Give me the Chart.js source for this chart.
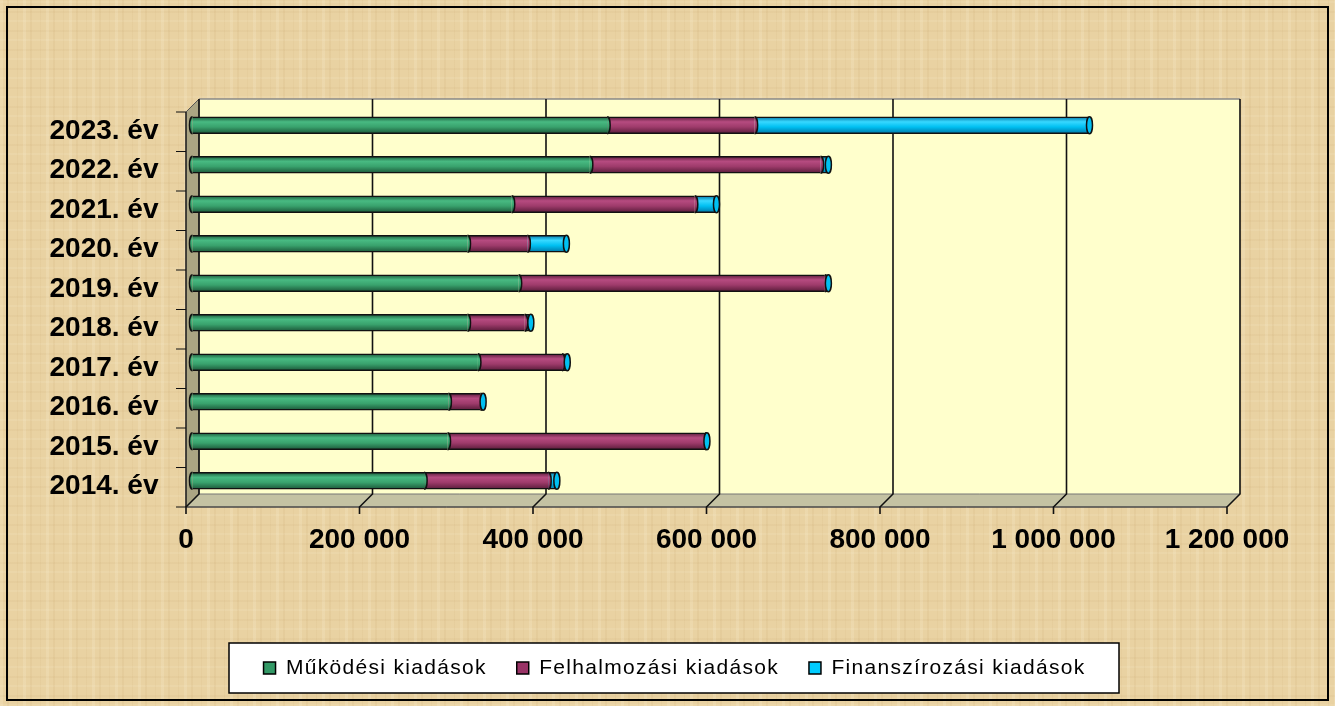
<!DOCTYPE html>
<html>
<head>
<meta charset="utf-8">
<script src="https://cdn.jsdelivr.net/npm/chart.js@4.4.1/dist/chart.umd.min.js"></script>
<style>
  html, body { margin: 0; padding: 0; }
  #wrap {
    position: relative;
    width: 1335px;
    height: 706px;
    background-color: #e9d2a2;
    background-image:
      repeating-linear-gradient(90deg, rgba(255,248,225,0.16) 0 3px, rgba(0,0,0,0) 3px 7px, rgba(170,125,60,0.07) 7px 9px, rgba(0,0,0,0) 9px 17px, rgba(170,125,60,0.05) 17px 18px, rgba(0,0,0,0) 18px 23px),
      repeating-linear-gradient(0deg, rgba(255,248,225,0.10) 0 2px, rgba(0,0,0,0) 2px 9px, rgba(160,115,55,0.05) 9px 11px, rgba(0,0,0,0) 11px 19px);
  }
  canvas { position: absolute; left: 0; top: 0; }
</style>
</head>
<body>
<div id="wrap"><canvas id="chart" width="1335" height="706"></canvas></div>
<script>
const years = ['2014. év', '2015. év', '2016. év', '2017. év', '2018. év', '2019. év', '2020. év', '2021. év', '2022. év', '2023. év'];
const mukodesi = [267000, 294000, 295000, 329000, 317000, 376000, 317000, 368000, 458000, 478000];
const felhalmozasi = [143000, 297000, 37000, 97000, 66000, 353000, 69000, 211000, 266000, 170000];
const finanszirozasi = [10000, 2000, 3000, 6000, 7000, 4000, 45000, 25000, 9000, 386000];
const xTicks = [0, 200000, 400000, 600000, 800000, 1000000, 1200000];

const depth = 6.5;
const barH = 17;

const palette = {
  green: { legend: '#339966', dark: '#1b5638', light: '#48ba82', mid: '#39a26d' },
  plum: { legend: '#993366', dark: '#581b39', light: '#b64b80', mid: '#9e3b6b' },
  sky: { legend: '#00ccff', dark: '#0076a6', light: '#38d8ff', mid: '#00c0f2' }
};

function cylinder(col) {
  return (c) => {
    if (c.type !== 'data') return col.legend;
    const chart = c.chart;
    const y = chart.scales.y ? chart.scales.y.getPixelForValue(c.dataIndex) : 0;
    if (!chart.chartArea || !isFinite(y)) return col.mid;
    const g = chart.ctx.createLinearGradient(0, y - barH / 2, 0, y + barH / 2);
    g.addColorStop(0, col.dark);
    g.addColorStop(0.3, col.light);
    g.addColorStop(0.6, col.mid);
    g.addColorStop(1, col.dark);
    return g;
  };
}

function fmt(v) {
  return String(v).replace(/\B(?=(\d{3})+(?!\d))/g, ' ');
}

// walls, floor, gridlines, cylinder caps
const frame3d = {
  id: 'frame3d',
  beforeDraw(chart) {
    const { ctx } = chart;
    ctx.save();
    ctx.strokeStyle = '#000';
    ctx.lineWidth = 2;
    ctx.strokeRect(7, 7, 1321, 693);
    // legend box
    ctx.fillStyle = '#fff';
    ctx.fillRect(229, 643, 890, 50);
    ctx.lineWidth = 1.5;
    ctx.strokeRect(229, 643, 890, 50);
    ctx.restore();
  },
  beforeDatasetsDraw(chart) {
    const { ctx, chartArea: ca, scales: { x } } = chart;
    const x0 = x.getPixelForValue(x.min);
    const x1 = x.getPixelForValue(x.max);
    const bt = ca.top - depth, bb = ca.bottom - depth;
    const ft = ca.top + depth, fb = ca.bottom + depth;
    ctx.save();
    ctx.fillStyle = '#ffffcc';
    ctx.fillRect(x0 + depth, bt, x1 - x0, bb - bt);
    // left wall
    ctx.fillStyle = '#aba583';
    ctx.beginPath();
    ctx.moveTo(x0 - depth, ft); ctx.lineTo(x0 + depth, bt);
    ctx.lineTo(x0 + depth, bb); ctx.lineTo(x0 - depth, fb);
    ctx.closePath(); ctx.fill();
    ctx.strokeStyle = '#555'; ctx.lineWidth = 1; ctx.stroke();
    // floor
    ctx.fillStyle = '#c4c2a3';
    ctx.beginPath();
    ctx.moveTo(x0 + depth, bb); ctx.lineTo(x1 + depth, bb);
    ctx.lineTo(x1 - depth, fb); ctx.lineTo(x0 - depth, fb);
    ctx.closePath(); ctx.fill();
    ctx.strokeStyle = '#777'; ctx.stroke();
    ctx.strokeStyle = '#333';
    ctx.beginPath(); ctx.moveTo(x0 - depth, fb); ctx.lineTo(x1 - depth, fb); ctx.stroke();
    ctx.strokeStyle = '#888'; ctx.lineWidth = 1.5;
    ctx.beginPath(); ctx.moveTo(x0 + depth, bt); ctx.lineTo(x1 + depth, bt); ctx.stroke();
    // vertical gridlines
    ctx.strokeStyle = '#111'; ctx.lineWidth = 1.6;
    xTicks.forEach(v => {
      const px = x.getPixelForValue(v);
      ctx.beginPath();
      ctx.moveTo(px + depth, bt); ctx.lineTo(px + depth, bb);
      ctx.lineTo(px - depth, fb); ctx.lineTo(px - depth, fb + 7);
      ctx.stroke();
    });
    // left axis line and category ticks
    ctx.lineWidth = 1.2;
    ctx.beginPath();
    ctx.moveTo(x0 - depth, ft); ctx.lineTo(x0 - depth, fb);
    const band = (ca.bottom - ca.top) / years.length;
    for (let i = 0; i <= years.length; i++) {
      const yy = ca.top + i * band + depth;
      ctx.moveTo(x0 - depth - 10, yy); ctx.lineTo(x0 - depth, yy);
    }
    ctx.stroke();
    ctx.restore();
  },
  afterDatasetsDraw(chart) {
    const { ctx } = chart;
    const cols = [palette.green, palette.plum, palette.sky];
    ctx.save();
    ctx.strokeStyle = '#111';
    ctx.lineWidth = 1.5;
    for (let i = 0; i < years.length; i++) {
      const segs = chart.data.datasets.map((ds, di) => chart.getDatasetMeta(di).data[i].getProps(['x', 'y', 'base', 'height'], true));
      const lastIdx = chart.data.datasets.reduce((m, ds, di) => (ds.data[i] > 0 ? di : m), 0);
      const first = segs[0];
      const ry = first.height / 2;
      // rounded start
      ctx.fillStyle = cylinder(cols[0])({ type: 'data', chart, dataIndex: i });
      ctx.beginPath();
      ctx.ellipse(first.base, first.y, 3, ry, 0, Math.PI / 2, Math.PI * 1.5);
      ctx.closePath(); ctx.fill();
      ctx.beginPath();
      ctx.ellipse(first.base, first.y, 3, ry, 0, Math.PI / 2, Math.PI * 1.5);
      ctx.stroke();
      segs.forEach((s, di) => {
        if (chart.data.datasets[di].data[i] <= 0) return;
        ctx.fillStyle = cylinder(cols[di])({ type: 'data', chart, dataIndex: i });
        ctx.beginPath();
        if (di === lastIdx) {
          ctx.ellipse(s.x, s.y, 3, ry, 0, 0, Math.PI * 2);
          ctx.fillStyle = cols[di].mid;
          ctx.fill();
          ctx.stroke();
        } else {
          ctx.ellipse(s.x, s.y, 3, ry, 0, -Math.PI / 2, Math.PI / 2);
          ctx.closePath();
          ctx.fill();
          ctx.beginPath();
          ctx.ellipse(s.x, s.y, 3, ry, 0, -Math.PI / 2, Math.PI / 2);
          ctx.stroke();
        }
      });
    }
    ctx.restore();
  }
};

function dataset(label, data, col) {
  return {
    label,
    data,
    backgroundColor: cylinder(col),
    borderColor: '#111',
    borderWidth: { top: 1.5, bottom: 1.5, left: 0, right: 0 },
    borderSkipped: false,
    barThickness: barH,
    legendColor: col.legend
  };
}

const chart = new Chart(document.getElementById('chart'), {
  type: 'bar',
  data: {
    labels: years,
    datasets: [
      dataset('Működési kiadások', mukodesi, palette.green),
      dataset('Felhalmozási kiadások', felhalmozasi, palette.plum),
      dataset('Finanszírozási kiadások', finanszirozasi, palette.sky)
    ]
  },
  options: {
    indexAxis: 'y',
    responsive: false,
    animation: false,
    layout: { padding: { left: 14, right: 0, top: 105.5, bottom: 17.5 } },
    scales: {
      x: {
        stacked: true,
        min: 0,
        max: 1200000,
        afterBuildTicks: (s) => { s.ticks = xTicks.map(v => ({ value: v })); },
        afterFit: (s) => { s.height = 127; },
        grid: { display: false, drawTicks: false },
        border: { display: false },
        ticks: {
          padding: 23,
          labelOffset: -depth,
          maxRotation: 0,
          color: '#000',
          font: { family: "'Liberation Sans', Arial, sans-serif", size: 28, weight: 'bold' },
          callback: (v) => fmt(v)
        }
      },
      y: {
        stacked: true,
        reverse: true,
        afterFit: (s) => { s.width = 178.5; },
        grid: { display: false, drawTicks: false },
        border: { display: false },
        ticks: {
          padding: 34,
          labelOffset: 6,
          color: '#000',
          font: { family: "'Liberation Sans', Arial, sans-serif", size: 28, weight: 'bold' }
        }
      },
      // empty right-hand gutter so the legend centres like the original
      gutter: {
        type: 'linear',
        position: 'right',
        afterFit: (s) => { s.width = 101.5; },
        grid: { display: false, drawTicks: false },
        border: { display: false },
        ticks: { display: false }
      }
    },
    plugins: {
      tooltip: { enabled: false },
      legend: {
        position: 'bottom',
        labels: {
          boxWidth: 12,
          boxHeight: 12,
          padding: 30,
          color: '#000',
          font: { family: "'Liberation Sans', Arial, sans-serif", size: 21 },
          generateLabels: (c) => c.data.datasets.map((ds, i) => ({
            text: ds.label,
            fillStyle: ds.legendColor,
            strokeStyle: '#000',
            lineWidth: 1.5,
            datasetIndex: i,
            hidden: false
          }))
        }
      }
    }
  },
  plugins: [frame3d]
});

// the legend text in the original is spaced wider; widen it only for the legend
const lg = chart.legend;
const spaced = (fn) => function (...args) {
  const c = this.ctx;
  c.save();
  c.letterSpacing = '1.3px';
  const r = fn.apply(this, args);
  c.restore();
  return r;
};
lg.fit = spaced(lg.fit);
lg.draw = spaced(lg.draw);
chart.update();
</script>
</body>
</html>
